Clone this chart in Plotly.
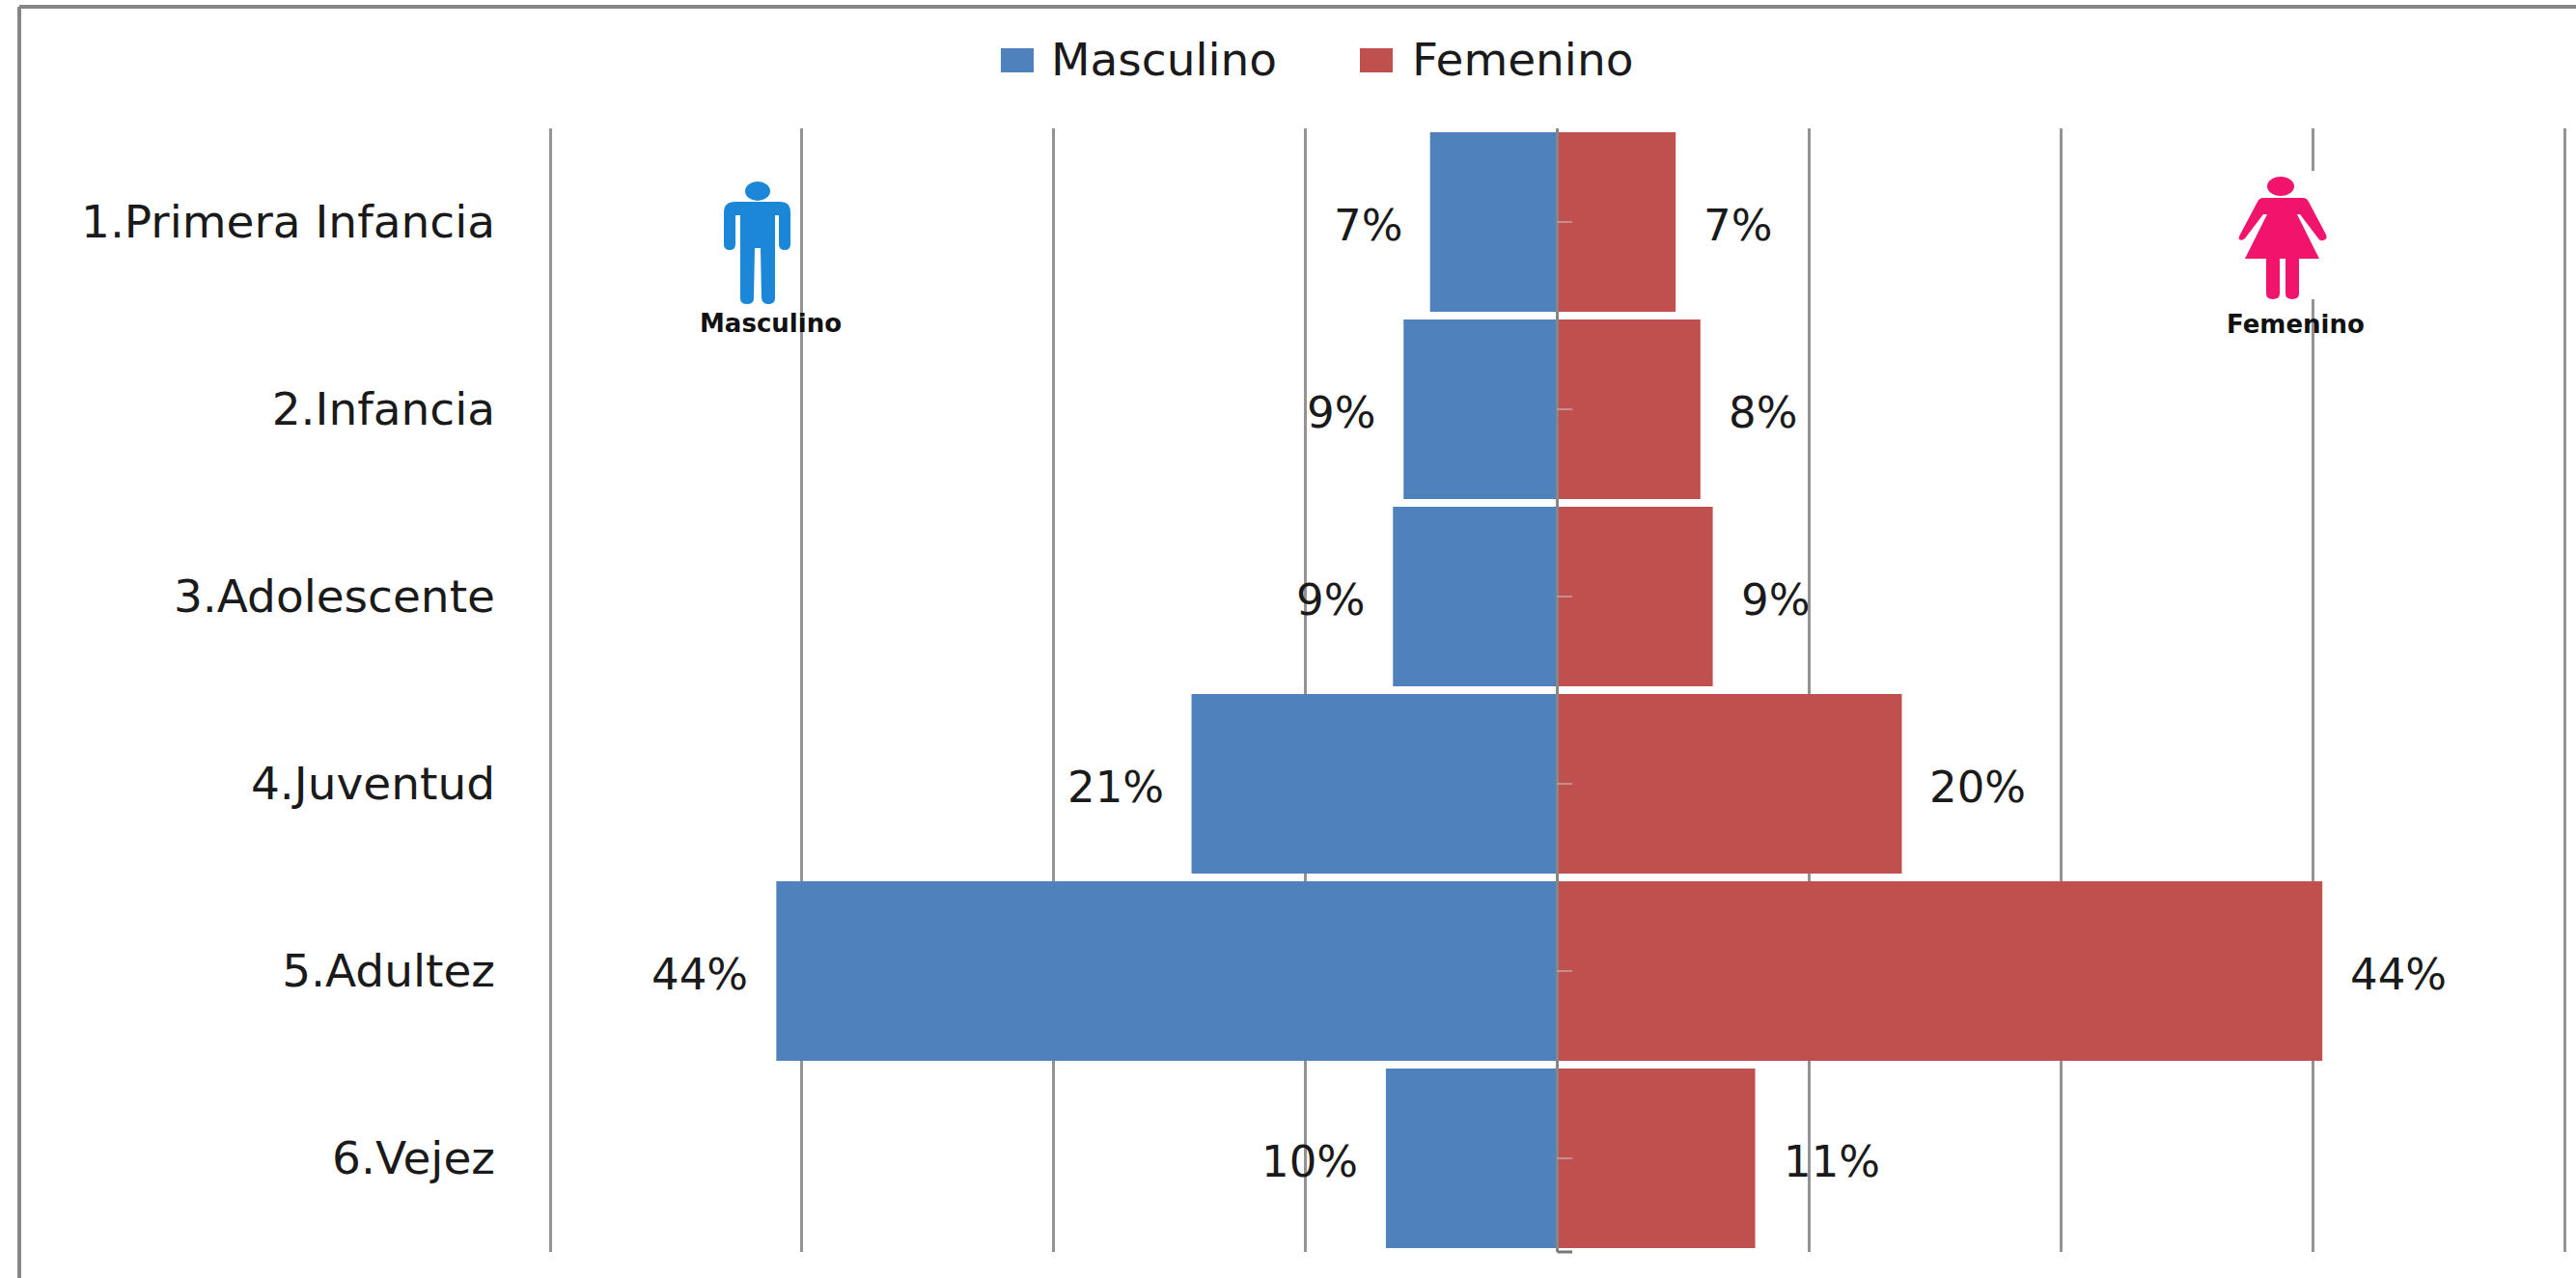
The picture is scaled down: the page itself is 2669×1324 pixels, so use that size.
import plotly.graph_objects as go

categories = ["1.Primera Infancia", "2.Infancia", "3.Adolescente", "4.Juventud", "5.Adultez", "6.Vejez"]
masculino = [7.2, 8.7, 9.3, 20.7, 44.2, 9.7]
femenino = [6.7, 8.1, 8.8, 19.5, 43.3, 11.2]
masc_labels = ["7%", "9%", "9%", "21%", "44%", "10%"]
fem_labels = ["7%", "8%", "9%", "20%", "44%", "11%"]
series_names = ["Masculino", "Femenino"]

W, H = 2669, 1324
L, R, T, B = 565, 2662, 133, 1297
BLUE, RED, GRID = "#4F81BD", "#C0504D", "#939393"
FONT = "DejaVu Sans"
STEP = 14.25
PAD = 0.273  # keeps the outermost gridlines inside the plot area
TEXT = "#1a1a1a"


def px(x):
    return (x - L) / (R - L)


def py(y):
    return (B - y) / (B - T)


def rect(x0, y0, x1, y1, color):
    return dict(type="rect", xref="paper", yref="paper", x0=px(x0), x1=px(x1), y0=py(y0), y1=py(y1),
                fillcolor=color, line_width=0, layer="above")


def pline(x0, y0, x1, y1, color, width):
    return dict(type="line", xref="paper", yref="paper", x0=px(x0), x1=px(x1), y0=py(y0), y1=py(y1),
                line=dict(color=color, width=width), layer="above")


def path(cmds, color):
    out = []
    for c in cmds:
        pts = c[1:]
        coords = " ".join(f"{px(pts[i]):.5f},{py(pts[i + 1]):.5f}" for i in range(0, len(pts), 2))
        out.append(f"{c[0]} {coords}")
    return dict(type="path", xref="paper", yref="paper", path=" ".join(out) + " Z",
                fillcolor=color, line_width=0, layer="above")


def ellipse(cx, cy, rx, ry, color):
    return dict(type="circle", xref="paper", yref="paper", x0=px(cx - rx), x1=px(cx + rx),
                y0=py(cy + ry), y1=py(cy - ry), fillcolor=color, line_width=0, layer="above")


MAN = "#1B87D6"
WOMAN = "#F0146C"
man = [("M", 762, 209), ("L", 808, 209), ("Q", 819, 209, 819, 220), ("L", 819, 253), ("Q", 819, 259, 813, 259),
       ("Q", 807, 259, 807, 253), ("L", 807, 223), ("L", 803, 223), ("L", 803, 309), ("Q", 803, 315, 796, 315),
       ("Q", 790, 315, 789, 309), ("L", 788, 257), ("L", 782, 257), ("L", 781, 309), ("Q", 781, 315, 774, 315),
       ("Q", 767, 315, 767, 309), ("L", 767, 223), ("L", 762, 223), ("L", 762, 253), ("Q", 762, 259, 756, 259),
       ("Q", 750, 259, 750, 253), ("L", 750, 220), ("Q", 750, 209, 762, 209)]
woman = [("M", 2345, 205), ("L", 2386, 205), ("Q", 2390, 205, 2392, 209), ("L", 2410, 243), ("Q", 2412, 248, 2407, 249),
         ("Q", 2404, 250, 2402, 247), ("L", 2383, 222), ("L", 2380, 222), ("L", 2403, 268), ("L", 2382, 268),
         ("L", 2382, 304), ("Q", 2382, 310, 2375, 310), ("Q", 2368, 310, 2368, 304), ("L", 2368, 268), ("L", 2362, 268),
         ("L", 2362, 304), ("Q", 2362, 310, 2355, 310), ("Q", 2348, 310, 2348, 304), ("L", 2348, 268), ("L", 2326, 268),
         ("L", 2349, 222), ("L", 2345, 222), ("L", 2326, 247), ("Q", 2323, 250, 2320, 248), ("Q", 2319, 246, 2321, 243),
         ("L", 2339, 209), ("Q", 2341, 205, 2345, 205)]

fig = go.Figure()
fig.add_bar(y=categories, x=[-v for v in masculino], name=series_names[0], orientation="h",
            marker=dict(color=BLUE, line_width=0))
fig.add_bar(y=categories, x=femenino, name=series_names[1], orientation="h",
            marker=dict(color=RED, line_width=0))

shapes = [
    pline(20, 7, W, 7, "#868686", 4),
    pline(20, 7, 20, H, "#868686", 4),
    rect(1037, 50, 1071, 75, BLUE),
    rect(1409, 50, 1443, 75, RED),
    rect(2388, 177, 2404, 310, "white"),
    path(man, MAN), ellipse(785, 198, 13, 10, MAN),
    path(woman, WOMAN), ellipse(2363, 193, 14, 10, WOMAN),
    dict(type="line", xref="x", yref="paper", x0=0, x1=0, y0=0, y1=1,
         line=dict(color="#868686", width=3), layer="above"),
    dict(type="line", xref="x", yref="paper", x0=0, x1=0.85, y0=0, y1=0,
         line=dict(color="#777777", width=3), layer="above"),
]
for c in categories:
    shapes.append(dict(type="line", xref="x", yref="y", x0=0, x1=0.85, y0=c, y1=c,
                       line=dict(color="rgba(200,170,170,0.7)", width=2), layer="above"))

annotations = []
for c, v, t, f, ft in zip(categories, masculino, masc_labels, femenino, fem_labels):
    annotations.append(dict(x=-v, y=c, xref="x", yref="y", text=t, showarrow=False, xanchor="right",
                            xshift=-27, yshift=-3, font=dict(family=FONT, size=45, color=TEXT)))
    annotations.append(dict(x=f, y=c, xref="x", yref="y", text=ft, showarrow=False, xanchor="left",
                            xshift=27, yshift=-3, font=dict(family=FONT, size=45, color=TEXT)))
annotations.append(dict(x=px(798), y=py(335), xref="paper", yref="paper", text="<b>Masculino</b>", showarrow=False,
                        xanchor="center", yanchor="middle", font=dict(family=FONT, size=26, color="#111111")))
annotations.append(dict(x=px(2378), y=py(336), xref="paper", yref="paper", text="<b>Femenino</b>", showarrow=False,
                        xanchor="center", yanchor="middle", font=dict(family=FONT, size=26, color="#111111")))

fig.update_layout(
    width=W, height=H, autosize=False,
    margin=dict(l=L, r=W - R, t=T, b=H - B, pad=0),
    paper_bgcolor="white", plot_bgcolor="white",
    barmode="relative", bargap=0.04,
    font=dict(family=FONT, color=TEXT),
    shapes=shapes, annotations=annotations,
    showlegend=True,
    legend=dict(orientation="h", x=px(1034), xanchor="left", y=py(60), yanchor="middle",
                bgcolor="rgba(0,0,0,0)", font=dict(family=FONT, size=47, color=TEXT),
                itemwidth=45, entrywidth=314, entrywidthmode="pixels", traceorder="normal",
                itemclick=False, itemdoubleclick=False),
    xaxis=dict(range=[-4 * STEP - PAD, 4 * STEP + PAD], tick0=0, dtick=STEP, showgrid=True, gridcolor=GRID,
               gridwidth=3, showticklabels=False, ticks="", zeroline=False, showline=False, fixedrange=True),
    yaxis=dict(type="category", categoryorder="array", categoryarray=categories, autorange="reversed",
               tickfont=dict(family=FONT, size=47, color=TEXT), ticks="", showline=False, showgrid=False,
               zeroline=False, automargin=False, ticklabelstandoff=51, fixedrange=True),
)

fig.write_html("out.html", config=dict(displayModeBar=False),
               post_script="document.body.style.margin='0';")
